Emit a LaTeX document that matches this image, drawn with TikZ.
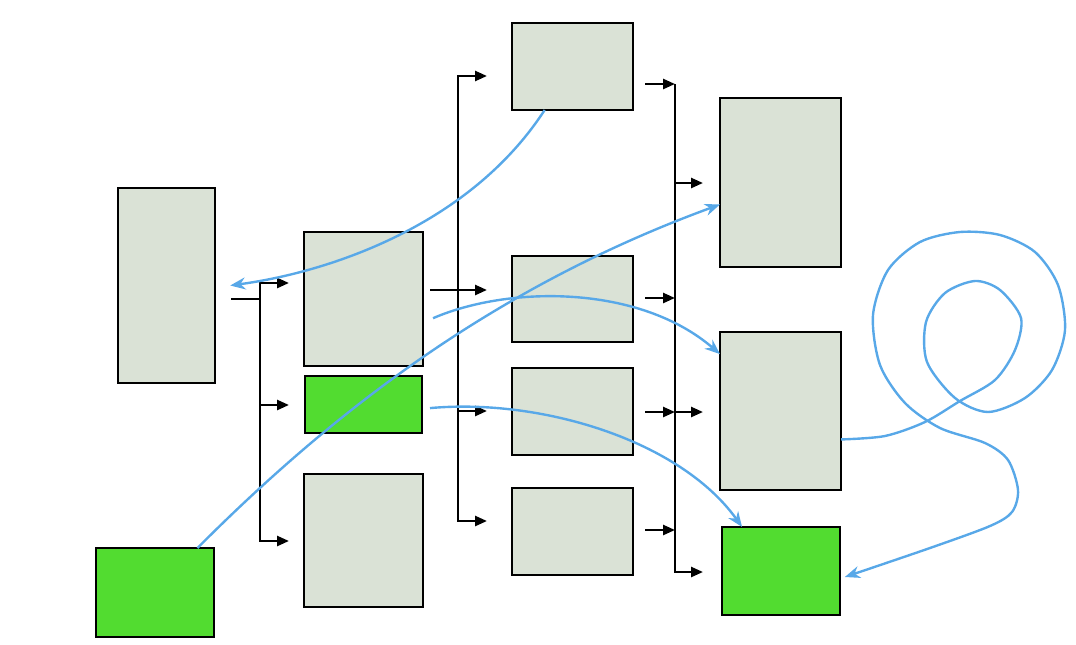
\documentclass[tikz,border=0pt]{standalone}
\usetikzlibrary{
	arrows.meta,
	positioning,
	calc
}
\definecolor{boxgray}{RGB}{218,226,214}
\definecolor{boxgreen}{RGB}{82,220,48}
\definecolor{linkblue}{RGB}{88,168,232}

\begin{document}
\begin{tikzpicture}[x=0.025cm,y=-0.025cm,>=Stealth,
		graybox/.style={draw,line width=1.8pt,fill=boxgray,inner sep=0pt,outer sep=0pt},
		greenbox/.style={graybox,fill=boxgreen},
		bus/.style={line width=1.8pt},
		flow/.style={bus,-{Triangle[length=0.3cm,width=0.25cm]}},
		link/.style={draw=linkblue,line width=1.7pt,-{Stealth[length=0.38cm,width=0.3cm]}}]
			
			\useasboundingbox (0,0) rectangle (1076,644);
			
			% left column
			\node[graybox,minimum width=2.425cm,minimum height=4.875cm] (L1) at (166.5,285.5) {};
			\node[greenbox,minimum width=2.95cm,minimum height=2.225cm] (G1) at (155,592.5) {};
			
			% second column
			\node[graybox,minimum width=2.975cm,minimum height=3.35cm] (B1) at (363.5,299) {};
			\node[greenbox,minimum width=2.925cm,minimum height=1.425cm] (G2) at (363.5,404.5) {};
			\node[graybox,minimum width=2.975cm,minimum height=3.325cm] (B2) at (363.5,540.5) {};
			
			% third column
			\node[graybox,minimum width=3.025cm,minimum height=2.175cm] (C1) at (572.5,66.5) {};
			\node[graybox,minimum width=3.025cm,minimum height=2.15cm] (C2) at (572.5,299) {};
			\node[graybox,minimum width=3.025cm,minimum height=2.175cm] (C3) at (572.5,411.5) {};
			\node[graybox,minimum width=3.025cm,minimum height=2.175cm] (C4) at (572.5,531.5) {};
			
			% right column
			\node[graybox,minimum width=3.025cm,minimum height=4.225cm] (R1) at (780.5,182.5) {};
			\node[graybox,minimum width=3.025cm,minimum height=3.95cm] (R2) at (780.5,411) {};
			\node[greenbox,minimum width=2.95cm,minimum height=2.2cm] (G3) at (781,571) {};
			
			% first bus
			\coordinate (s1) at (231,299);
			\coordinate (bus1) at (260,299);
			\coordinate (a1) at (289,283);
			\coordinate (a2) at (289,405);
			\coordinate (a3) at (289,541);
			\draw[bus] (s1) -- (bus1);
			\draw[flow] (bus1 |- a2) -- (bus1 |- a1) -- (a1);
			\draw[flow] (bus1 |- a2) -- (a2);
			\draw[flow] (bus1 |- a2) -- (bus1 |- a3) -- (a3);
			
			% second bus
			\coordinate (s2) at (430,290);
			\coordinate (bus2) at (458,290);
			\coordinate (b1) at (487,76);
			\coordinate (b2) at (487,290);
			\coordinate (b3) at (487,411);
			\coordinate (b4) at (487,521);
			\draw[flow] (bus2 |- b3) -- (bus2 |- b1) -- (b1);
			\draw[flow] (s2) -- (b2);
			\draw[flow] (bus2 |- b3) -- (b3);
			\draw[flow] (bus2 |- b3) -- (bus2 |- b4) -- (b4);
			
			% third bus
			\coordinate (bus3) at (675,84);
			\foreach \y [count=\i] in {84,298,412,530}
				\coordinate (c\i) at (645,\y);
			\coordinate (r1) at (703,183);
			\coordinate (r2) at (703,412);
			\coordinate (r3) at (703,572);
			\foreach \i in {1,...,4}
				\draw[flow] (c\i) -- (c\i -| bus3);
			\draw[flow] (bus3) -- (bus3 |- r3) -- (r3);
			\draw[flow] (bus3 |- r1) -- (r1);
			\draw[flow] (bus3 |- r2) -- (r2);
			
			% blue links
			\draw[link] ($(C1.south west)!0.27!(C1.south east)$)
				.. controls (470,225) and (330,272) .. ([xshift=0.38cm]L1.east);
			\draw[link] ($(G1.north west)!0.86!(G1.north east)$)
				.. controls (340,405) and (500,285) .. ($(R1.north west)!0.63!(R1.south west)$);
			\draw[link] ([shift={(0.25cm,-0.48cm)}]B1.east)
				.. controls (510,285) and (640,285) .. ($(R2.north west)!0.14!(R2.south west)$);
			\draw[link] ([shift={(0.2cm,-0.09cm)}]G2.east)
				.. controls (540,398) and (680,440) .. ($(G3.north west)!0.17!(G3.north east)$);
			
			% loop
			\coordinate (loopin) at ($(R2.north east)!0.68!(R2.south east)$);
			\coordinate (loopout) at ([shift={(0.12cm,-0.15cm)}]G3.east);
			\draw[link] plot[smooth,tension=0.5] coordinates {
				(loopin) (885,436) (925,422) (960,401) (995,380) (1015,350) (1021,318)
				(1000,290) (975,281) (945,293) (926,322) (927,362) (955,398) (988,412)
				(1025,398) (1052,370) (1065,330) (1058,285) (1035,252) (1000,235)
				(960,232) (920,242) (888,270) (873,315) (880,365) (905,403) (940,428)
				(985,443) (1008,460) (1018,490) (1012,512) (990,526) (930,548) (loopout)};
			
		\end{tikzpicture}
\end{document}
